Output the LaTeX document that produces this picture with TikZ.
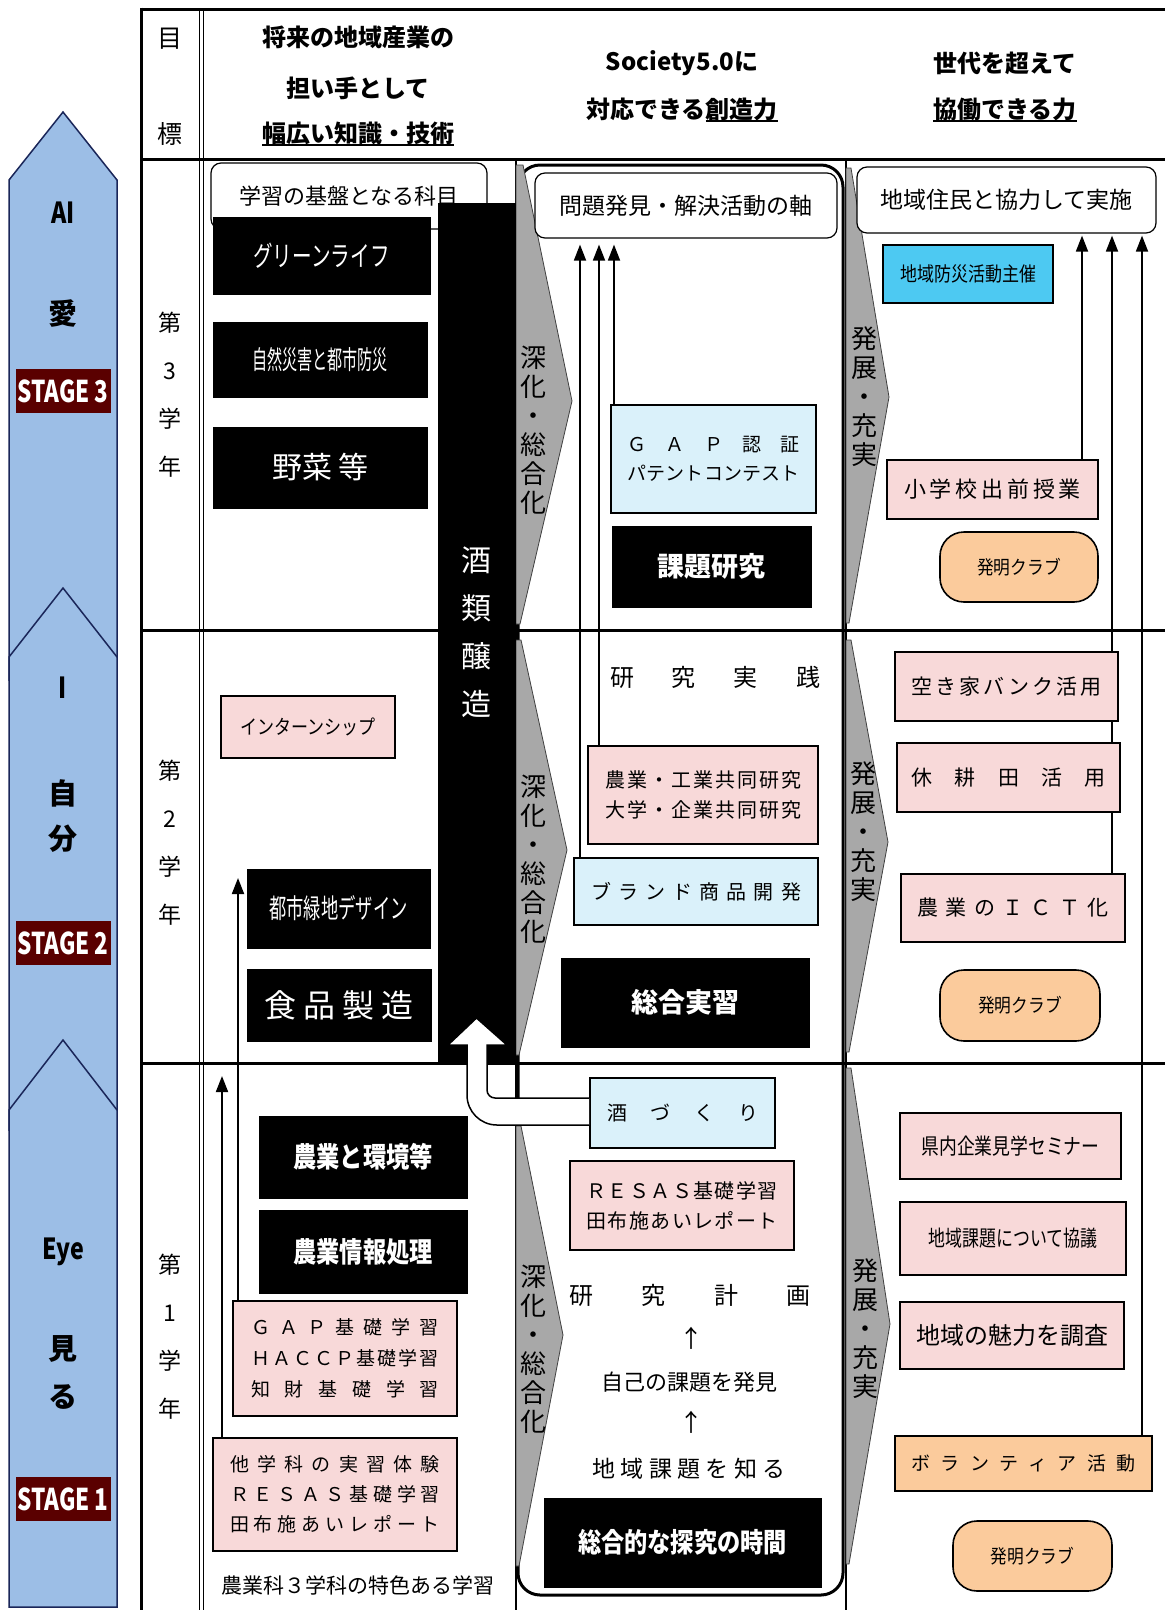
\documentclass[tikz,border=0pt]{standalone}
\usepackage{fontspec}
\usepackage{graphicx}
\setmainfont{Noto Sans CJK JP}
\usetikzlibrary{arrows.meta}
\definecolor{pinkf}{HTML}{F8D9D9}
\definecolor{cyanl}{HTML}{DAF1FA}
\definecolor{cyand}{HTML}{4DC9F2}
\definecolor{orangef}{HTML}{FBCB9C}
\definecolor{chev}{HTML}{A8A8A8}
\definecolor{stageblue}{HTML}{9CBEE6}
\definecolor{stageline}{HTML}{1A2659}
\definecolor{stagered}{HTML}{5A0000}
\makeatletter
\def\sprd@loop#1{\ifx#1\@nil\else\hfill#1\expandafter\sprd@loop\fi}
\def\sprd@first#1{#1\sprd@loop}
\newcommand\spread[2]{\makebox[#1][s]{\sprd@first#2\@nil}}
\makeatother
\newcommand\fs[1]{\fontsize{#1}{#1}\selectfont}
\newcommand\cx[2]{\scalebox{#1}[1]{#2}}
\newcommand\ul[1]{\setbox0\hbox{#1}\rlap{\rule[-4pt]{\wd0}{1.8pt}}\box0}
\begin{document}
\begin{tikzpicture}[x=1pt,y=-1pt,
  tb/.style={line width=3pt},
  txt/.style={inner sep=0pt, align=center},
  pinkbox/.style={draw, line width=1.6pt, fill=pinkf, inner sep=0pt, align=center},
  cyanbox/.style={draw, line width=1.6pt, fill=cyanl, inner sep=0pt, align=center},
  blackbox/.style={fill=black, draw=black, text=white, inner sep=0pt, align=center},
  orangebox/.style={draw, line width=1.6pt, fill=orangef, inner sep=0pt, align=center},
  clubbox/.style={orangebox, rounded corners=24pt, minimum width=158pt, minimum height=70pt},
  roundbox/.style={draw, line width=1.2pt, fill=white, rounded corners=10pt, inner sep=0pt},
  arr/.style={line width=1.8pt, -{Triangle[length=16pt,width=12pt]}},
  chevron/.style={fill=chev, draw=black!75, line width=0.8pt},
  stagearrow/.style={fill=stageblue, draw=stageline, line width=1.5pt, line join=miter},
  stagebox/.style={fill=stagered, text=white, inner sep=0pt, minimum width=95pt, minimum height=44pt},
  stagetxt/.style={inner sep=0pt, font=\bfseries\fs{29}},
  vtxt/.style={inner sep=0pt, align=center, font={\fontsize{26}{29}\selectfont}},
  yeartxt/.style={inner sep=0pt, align=center, font={\fontsize{23}{48}\selectfont}},
  hdr/.style={inner sep=0pt, font=\bfseries\fs{24}}
]
\useasboundingbox (0,0) rectangle (1165,1610);
\fill[white] (0,0) rectangle (1165,1610);

% ---------- stage arrows ----------
\draw[stagearrow] (9,180) -- (63,112) -- (117,180) -- (117,680) -- (9,680) -- cycle;
\draw[stagearrow] (9,657) -- (63,588) -- (117,657) -- (117,1130) -- (9,1130) -- cycle;
\draw[stagearrow] (9,1110) -- (63,1040) -- (117,1110) -- (117,1607) -- (9,1607) -- cycle;
\node[stagetxt] (s3a) at (63,213) {\cx{0.8}{AI}};
\node[stagetxt] (s3b) at (63,313) {愛};
\node[stagebox] (st3) at (63,391) {\fs{30}\bfseries\cx{0.75}{STAGE 3}};
\node[stagetxt] (s2a) at (63,688) {\cx{0.8}{I}};
\node[stagetxt] (s2b) at (63,793) {自};
\node[stagetxt] (s2c) at (63,839) {分};
\node[stagebox] (st2) at (63,943) {\fs{30}\bfseries\cx{0.75}{STAGE 2}};
\node[stagetxt] (s1a) at (63,1252) {\cx{0.8}{Eye}};
\node[stagetxt] (s1b) at (63,1349) {見};
\node[stagetxt] (s1c) at (63,1397) {る};
\node[stagebox] (st1) at (63,1499) {\fs{30}\bfseries\cx{0.75}{STAGE 1}};

% ---------- table lines ----------
\draw[tb] (141,9) -- (1165,9);
\draw[tb] (141,159) -- (1165,159);
\draw[tb] (141,630) -- (1165,630);
\draw[tb] (141,1063) -- (1165,1063);
\draw[tb] (141,7.5) -- (141,1610);
\draw[line width=1.2pt] (199.5,9) -- (199.5,1610);
\draw[line width=1.2pt] (203.5,9) -- (203.5,1610);
\draw[line width=2pt] (516,159) -- (516,1610);
\draw[line width=2pt] (846,159) -- (846,1610);

% ---------- header ----------
\node[txt, font=\fs{25}] (mo) at (170,39) {目};
\node[txt, font=\fs{25}] (hyo) at (170,134) {標};
\node[hdr] (h1a) at (358,37) {将来の地域産業の};
\node[hdr] (h1b) at (358,88) {担い手として};
\node[hdr] (h1c) at (358,134) {\ul{幅広い知識・技術}};
\node[hdr] (h2a) at (682,63) {Society5.0に};
\node[hdr] (h2b) at (682,110) {対応できる\ul{創造力}};
\node[hdr] (h3a) at (1005,63) {世代を超えて};
\node[hdr] (h3b) at (1005,110) {\ul{協働できる力}};

% ---------- year labels ----------
\node[yeartxt] (y3) at (170,395) {第\\3\\学\\年};
\node[yeartxt] (y2) at (170,843) {第\\2\\学\\年};
\node[yeartxt] (y1) at (170,1337) {第\\1\\学\\年};

% ---------- middle big box ----------
\node[draw, line width=3pt, rounded corners=22pt, minimum width=325pt, minimum height=1430pt, inner sep=0pt] (midbox) at (680.5,880) {};

% ---------- chevrons ----------
\draw[chevron] (516,165) -- (523,165) -- (572,401) -- (520,624) -- (516,624) -- cycle;
\draw[chevron] (516,640) -- (521,640) -- (567,850) -- (519,1055) -- (516,1055) -- cycle;
\draw[chevron] (516,1126) -- (521,1126) -- (563,1335) -- (519,1566) -- (516,1566) -- cycle;
\draw[chevron] (846,168) -- (851,168) -- (889,397) -- (849,623) -- (846,623) -- cycle;
\draw[chevron] (846,640) -- (851,640) -- (888,842) -- (849,1052) -- (846,1052) -- cycle;
\draw[chevron] (846,1068) -- (851,1068) -- (890,1324) -- (849,1564) -- (846,1564) -- cycle;
\node[vtxt] (cm3) at (533,430) {深\\化\\・\\総\\合\\化};
\node[vtxt] (cm2) at (533,859) {深\\化\\・\\総\\合\\化};
\node[vtxt] (cm1) at (533,1349) {深\\化\\・\\総\\合\\化};
\node[vtxt] (cr3) at (864,397) {発\\展\\・\\充\\実};
\node[vtxt] (cr2) at (863,832) {発\\展\\・\\充\\実};
\node[vtxt] (cr1) at (865,1329) {発\\展\\・\\充\\実};

% ---------- left column ----------
\node[roundbox, minimum width=276pt, minimum height=66pt, font=\fs{22}] (kiban) at (349,196) {学習の基盤となる科目};
\node[blackbox, minimum width=77pt, minimum height=859pt, font={\fontsize{30}{48}\selectfont}] (bar) at (476.5,632.5) {酒\\類\\醸\\造};
\node[blackbox, minimum width=217pt, minimum height=77pt] (green) at (321.5,255.5) {\fs{28}\cx{0.7}{グリーンライフ}};
\node[blackbox, minimum width=214pt, minimum height=75pt] (shizen) at (320,359.5) {\fs{26}\cx{0.58}{自然災害と都市防災}};
\node[blackbox, minimum width=214pt, minimum height=81pt] (yasai) at (320,467.5) {\fs{30}野菜\hspace{6pt}等};
\node[pinkbox, minimum width=174pt, minimum height=62pt] (intern) at (308,727) {\fs{20}\cx{0.85}{インターンシップ}};
\node[blackbox, minimum width=183pt, minimum height=79pt] (toshi) at (338.5,908.5) {\fs{27}\cx{0.64}{都市緑地デザイン}};
\node[blackbox, minimum width=184pt, minimum height=72pt] (shokuhin) at (339,1005) {\fs{32}\spread{150pt}{食品製造}};
\node[blackbox, minimum width=208pt, minimum height=82pt] (kankyo) at (363,1157) {\fs{28}\bfseries\cx{0.83}{農業と環境等}};
\node[blackbox, minimum width=208pt, minimum height=83pt] (joho) at (363,1251.5) {\fs{28}\bfseries\cx{0.83}{農業情報処理}};
\node[pinkbox, minimum width=224pt, minimum height=115pt, font={\fontsize{19}{31}\selectfont}] (gapk) at (345,1358.5)
  {\spread{188pt}{ＧＡＰ基礎学習}\\\spread{188pt}{ＨＡＣＣＰ基礎学習}\\\spread{188pt}{知財基礎学習}};
\node[pinkbox, minimum width=244pt, minimum height=113pt, font={\fontsize{19}{30}\selectfont}] (tagaku) at (335,1494.5)
  {\spread{210pt}{他学科の実習体験}\\\spread{210pt}{ＲＥＳＡＳ基礎学習}\\\spread{210pt}{田布施あいレポート}};
\node[txt, font=\fs{21}] (caption) at (358,1585) {農業科３学科の特色ある学習};

% ---------- middle column ----------
\node[roundbox, minimum width=302pt, minimum height=65pt, font=\fs{23}] (mondai) at (686,205.5) {問題発見・解決活動の軸};
\node[cyanbox, minimum width=205pt, minimum height=108pt, font={\fontsize{19}{29}\selectfont}] (gapn) at (713.5,459)
  {\spread{172pt}{ＧＡＰ認証}\\\spread{172pt}{パテントコンテスト}};
\node[blackbox, minimum width=199pt, minimum height=81pt] (kadai) at (711.5,566.5) {\fs{27}\bfseries 課題研究};
\node[txt, font=\fs{24}] (jissen) at (715,677) {\spread{210pt}{研究実践}};
\node[pinkbox, minimum width=230pt, minimum height=98pt, font={\fontsize{20}{30}\selectfont}] (nokogyo) at (703,795)
  {\spread{196pt}{農業・工業共同研究}\\\spread{196pt}{大学・企業共同研究}};
\node[cyanbox, minimum width=244pt, minimum height=67pt] (brand) at (696,891.5) {\fs{20}\spread{210pt}{ブランド商品開発}};
\node[blackbox, minimum width=248pt, minimum height=89pt] (sogo) at (685,1002.5) {\fs{27}\bfseries 総合実習};
\node[pinkbox, minimum width=224pt, minimum height=89pt, font={\fontsize{20}{30}\selectfont}] (resas) at (682,1205.5)
  {\spread{191pt}{ＲＥＳＡＳ基礎学習}\\\spread{191pt}{田布施あいレポート}};
\node[txt, font=\fs{24}] (keikaku) at (690,1295) {\spread{241pt}{研究計画}};
\node[txt, font=\fs{24}] (up1) at (691,1338) {↑};
\node[txt, font=\fs{22}] (jiko) at (689,1382) {自己の課題を発見};
\node[txt, font=\fs{24}] (up2) at (691,1422) {↑};
\node[txt, font=\fs{23}] (chiiki) at (689,1469) {\spread{193pt}{地域課題を知る}};
\node[blackbox, minimum width=277pt, minimum height=89pt] (tankyu) at (682.5,1542.5) {\fs{27}\bfseries\cx{0.86}{総合的な探究の時間}};

% ---------- right column ----------
\node[roundbox, minimum width=299pt, minimum height=66pt, font=\fs{23}] (jumin) at (1006.5,200) {地域住民と協力して実施};
\node[draw, line width=1.6pt, fill=cyand, inner sep=0pt, minimum width=170pt, minimum height=58pt] (bosai) at (968,274) {\fs{20}\cx{0.85}{地域防災活動主催}};
\node[pinkbox, minimum width=211pt, minimum height=59pt] (shogaku) at (992.5,489.5) {\fs{22}\spread{177pt}{小学校出前授業}};
\node[clubbox] (hatsu3) at (1019,567) {\fs{19}\cx{0.88}{発明クラブ}};
\node[pinkbox, minimum width=224pt, minimum height=68pt] (ict) at (1013,908) {\fs{21}\spread{192pt}{農業のＩＣＴ化}};
\node[clubbox, minimum width=160pt, minimum height=71pt] (hatsu2) at (1020,1005.5) {\fs{19}\cx{0.88}{発明クラブ}};
\node[pinkbox, minimum width=221pt, minimum height=66pt] (kennai) at (1010.5,1146) {\fs{22}\cx{0.81}{県内企業見学セミナー}};
\node[pinkbox, minimum width=226pt, minimum height=73pt] (kyogi) at (1013,1238.5) {\fs{22}\cx{0.77}{地域課題について協議}};
\node[pinkbox, minimum width=224pt, minimum height=67pt] (miryoku) at (1012,1335.5) {\fs{24}地域の魅力を調査};
\node[orangebox, minimum width=257pt, minimum height=55pt] (volunteer) at (1023.5,1463.5) {\fs{19}\spread{224pt}{ボランティア活動}};
\node[clubbox, minimum width=159pt, minimum height=70pt] (hatsu1) at (1032.5,1556) {\fs{19}\cx{0.88}{発明クラブ}};

% ---------- arrows ----------
\coordinate (tipL1) at (238,878);
\coordinate (tipL2) at (222,1076);
\draw[arr] (gapk.north -| tipL1) -- (tipL1);
\draw[arr] (tagaku.north -| tipL2) -- (tipL2);
\coordinate (am1) at (580,0);
\coordinate (am2) at (599,0);
\coordinate (am3) at (614,0);
\draw[arr, shorten >=6pt] (brand.north -| am1) -- (mondai.south -| am1);
\draw[arr, shorten >=6pt] (nokogyo.north -| am2) -- (mondai.south -| am2);
\draw[arr, shorten >=6pt] (gapn.north -| am3) -- (mondai.south -| am3);
\coordinate (ar1) at (1082,0);
\coordinate (ar2) at (1112,0);
\coordinate (ar3) at (1142,0);
\draw[arr, shorten >=2pt] (shogaku.north -| ar1) -- (jumin.south -| ar1);
\draw[arr, shorten >=2pt] (ict.north -| ar2) -- (jumin.south -| ar2);
\draw[arr, shorten >=2pt] (volunteer.north -| ar3) -- (jumin.south -| ar3);

% boxes drawn over the arrow at x=1112
\node[pinkbox, minimum width=223pt, minimum height=69pt] (akiya) at (1006.5,686.5) {\fs{21}\spread{190pt}{空き家バンク活用}};
\node[pinkbox, minimum width=223pt, minimum height=69pt] (kyuko) at (1008.5,777.5) {\fs{21}\spread{194pt}{休耕田活用}};

% ---------- white block arrow from 酒づくり to 酒類醸造 ----------
\node[cyanbox, minimum width=185pt, minimum height=70pt] (sake) at (682.5,1113) {\fs{20}\spread{151pt}{酒づくり}};
\coordinate (wa1) at (0,1098);
\coordinate (wa2) at (0,1125);
\draw[line width=1.5pt, fill=white, line join=miter] (sake.west |- wa1) -- (495,1098)
  .. controls (490.6,1098) and (487,1094.4) .. (487,1090) -- (487,1045) -- (507,1045)
  -- (bar.south |- 0,1018) -- (448,1045) -- (467,1045) -- (467,1095)
  .. controls (467,1111.6) and (480.4,1125) .. (497,1125) -- (sake.west |- wa2);
\end{tikzpicture}
\end{document}
